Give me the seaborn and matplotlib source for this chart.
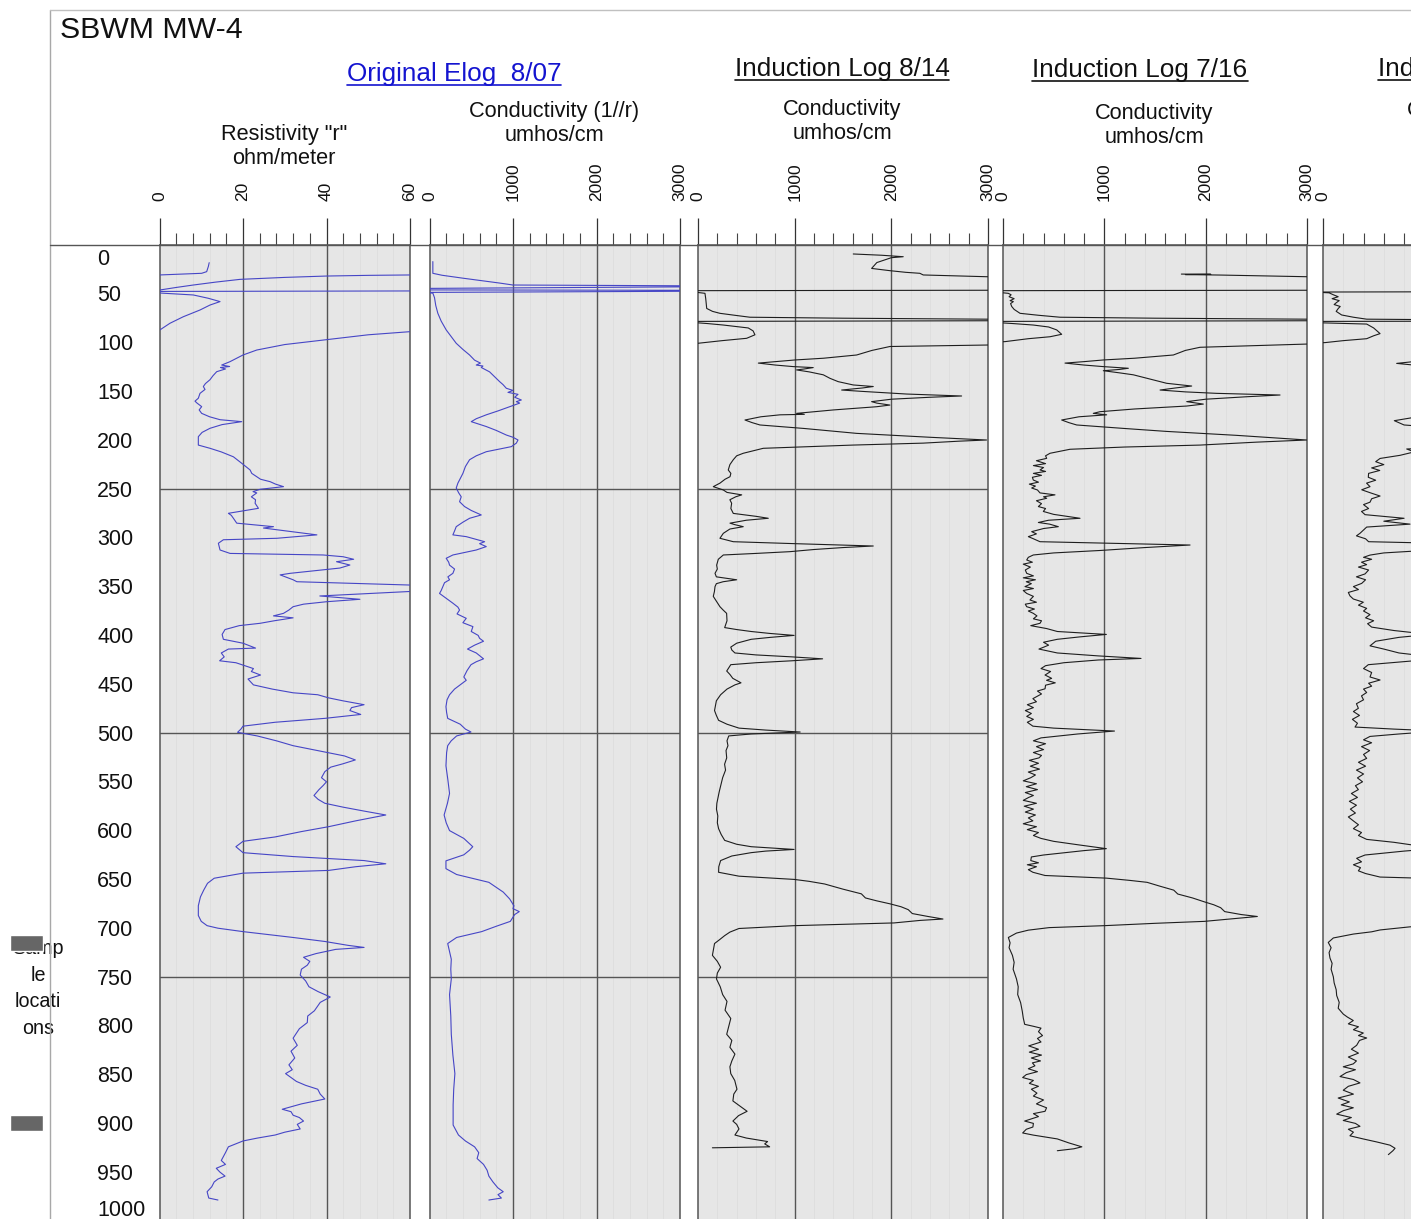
import matplotlib
matplotlib.use("Agg")
import matplotlib.pyplot as plt
import seaborn as sns
import pandas as pd
from matplotlib.lines import Line2D
from matplotlib import transforms

sns.set_style("white")
plt.rcParams['font.family'] = ['Liberation Sans', 'DejaVu Sans']

# ---------------- DATA (depth ft, value) ----------------
depth_ticks = list(range(0, 1001, 50))
sample_depths = [715, 900]

# Resistivity (ohm/meter), original elog 8/07
res_a = [(18.1, 11.9), (22.0, 11.7), (27.3, 11.3), (29.0, 10.1), (30.7, 0.0), (31.0, -3.0)]
res_b = [(45.5, -3.0), (46.1, 0.1), (43.5, 4.0), (41.0, 8.1), (38.0, 13.5), (35.2, 19.3), (33.2, 30.0),
         (31.8, 40.0), (31.1, 50.0), (30.7, 60.0), (30.6, 70.0), (47.0, 70.0), (47.6, -3.0), (48.6, -3.0),
         (49.2, 0.1), (51.2, 8.1), (54.6, 11.7), (58.0, 14.5), (61.5, 12.1), (66.6, 9.7), (73.5, 5.7),
         (80.2, 2.5), (87.0, 0.1), (88.0, -3.0)]
res_c = [(88.5, 70.0), (88.8, 60.0), (92.0, 50.0), (97.0, 40.0), (102.0, 30.0), (107.6, 23.3), (112.7, 20.0),
         (119.5, 16.9), (123.0, 14.9), (124.5, 16.8), (125.5, 14.6), (127.0, 15.8), (129.8, 13.7), (134.0, 12.8),
         (138.0, 12.1), (142.0, 11.0), (145.0, 10.5), (148.0, 10.9), (152.0, 9.7), (157.0, 9.3), (160.0, 8.5),
         (162.0, 9.0), (165.6, 10.1), (169.0, 9.5), (172.5, 10.1), (176.0, 12.0), (179.0, 14.5), (181.0, 19.7),
         (184.0, 15.0), (187.8, 12.1), (192.0, 10.2), (196.4, 9.3), (205.0, 9.3), (208.3, 12.1), (212.0, 14.8),
         (217.0, 17.7), (224.0, 19.8), (230.5, 21.7), (234.0, 22.1), (237.4, 23.3), (240.0, 24.2), (242.5, 26.5),
         (245.0, 27.8), (247.6, 29.7), (250.3, 24.1), (252.7, 22.4), (254.0, 23.3), (258.0, 22.0), (261.0, 23.0),
         (264.6, 22.9), (269.8, 23.7), (274.9, 16.5), (277.0, 17.2), (280.0, 17.7), (285.0, 18.5), (288.6, 27.3),
         (290.0, 24.9), (297.0, 37.7), (300.5, 28.1), (302.0, 15.3), (305.6, 14.1), (312.5, 14.5), (316.0, 16.9),
         (317.6, 39.2), (319.4, 44.0), (322.0, 46.5), (324.5, 42.4), (327.9, 45.6), (331.0, 43.2), (336.4, 31.3),
         (338.0, 28.9), (343.0, 32.0), (345.0, 32.9), (348.4, 60.0), (349.0, 70.0), (354.5, 70.0), (355.0, 60.0),
         (359.6, 38.4), (363.0, 48.0), (365.5, 40.0), (368.0, 34.5), (370.6, 32.0), (374.0, 31.0), (377.4, 29.7),
         (380.0, 27.3), (382.0, 32.0), (385.0, 27.5), (387.6, 24.1), (390.0, 19.1), (394.0, 15.7), (399.0, 15.0),
         (404.0, 15.3), (408.0, 20.0), (413.0, 23.0), (414.0, 16.5), (418.0, 14.8), (422.0, 15.5), (426.0, 14.4),
         (428.0, 18.3), (434.0, 22.5), (437.0, 22.0), (440.6, 24.2), (444.7, 21.2), (450.7, 22.5), (455.0, 27.0),
         (458.8, 32.0), (460.8, 37.9), (464.0, 40.5), (467.0, 43.9), (471.0, 49.0), (474.0, 46.0), (477.0, 45.6),
         (481.0, 48.2), (485.0, 39.6), (489.0, 27.7), (493.0, 20.0), (496.0, 19.5), (499.3, 18.7), (503.0, 23.4),
         (508.0, 28.0), (513.0, 32.0), (519.5, 39.6), (523.5, 44.3), (527.6, 46.9), (531.6, 43.9), (535.0, 41.0),
         (539.6, 39.6), (545.8, 38.8), (550.0, 40.0), (553.8, 39.2), (558.0, 38.2), (564.0, 37.0), (568.0, 38.0),
         (572.0, 39.6), (576.0, 44.0), (580.0, 49.0), (584.0, 54.2), (590.0, 47.0), (596.0, 40.5), (601.0, 34.0),
         (606.5, 27.7), (611.0, 20.0), (616.5, 18.3), (622.6, 20.0), (626.6, 32.0), (630.7, 49.0), (634.0, 54.2),
         (637.0, 47.0), (640.8, 40.5), (643.6, 20.0), (648.8, 13.1), (654.0, 11.5), (660.9, 10.6), (668.0, 9.8),
         (677.0, 9.3), (687.0, 9.3), (693.0, 10.0), (697.4, 11.4), (700.0, 14.0), (703.5, 20.0), (709.5, 32.0),
         (713.6, 39.6), (717.6, 45.2), (719.7, 49.0), (721.7, 42.2), (726.0, 37.5), (729.8, 34.5), (734.0, 36.0),
         (737.9, 35.4), (742.0, 34.0), (748.0, 33.7), (754.0, 35.0), (760.0, 35.8), (765.0, 38.0), (768.0, 39.6),
         (770.5, 40.9), (776.0, 38.5), (784.6, 37.1), (790.0, 35.5), (796.7, 35.4), (803.0, 33.5), (812.7, 32.0),
         (820.0, 33.0), (826.0, 31.5), (833.0, 32.4), (840.0, 31.0), (845.0, 31.8), (849.0, 30.2), (857.0, 32.8),
         (861.0, 35.0), (865.0, 37.9), (870.0, 38.5), (875.0, 39.6), (880.0, 34.0), (885.5, 29.4), (888.0, 31.5),
         (891.6, 32.0), (894.0, 33.5), (897.6, 34.5), (901.0, 33.0), (905.7, 33.7), (909.0, 30.0), (911.9, 27.7),
         (915.0, 23.5), (918.0, 20.0), (924.0, 16.5), (930.0, 15.8), (938.0, 14.8), (942.0, 15.8), (946.0, 13.6),
         (950.0, 14.5), (954.0, 15.7), (957.0, 14.0), (960.0, 13.1), (965.0, 12.5), (970.0, 11.4), (976.5, 11.8),
         (978.5, 14.0)]

# Conductivity (1//r) umhos/cm, original elog 8/07
cond_a = [(17, 40), (29, 40), (31, 150), (34, 400), (39, 840), (41, 1000), (42.0, 3600), (42.6, 3600),
          (44.5, -100), (46.0, -100), (46.5, 3600), (47.2, 3600), (48.6, -100), (49.3, 40), (54, 60), (62, 75),
          (70, 100), (78, 140), (87, 200), (95, 270), (100.7, 320), (107, 400), (112.7, 480), (118, 540),
          (121, 610), (123, 560), (124, 640), (125.5, 620), (130, 720), (135, 780), (140, 840), (143, 880),
          (146.8, 920), (149, 1000), (151, 940), (153, 1060), (156, 1020), (158.8, 1100), (160.5, 1040),
          (162, 1080), (165.7, 960), (170, 820), (174, 680), (178, 560), (181, 500), (186, 680), (190, 800),
          (194.7, 920), (197, 1000), (199.8, 1060), (203, 1040), (206.6, 980), (211.8, 680), (216, 560),
          (220, 480), (227, 430), (234, 400), (244, 340), (249, 320), (254, 350), (258, 380), (263, 360),
          (268, 420), (272, 500), (276.6, 620), (280, 480), (284, 400), (288.6, 320), (293, 300), (297, 280),
          (298.8, 440), (304, 660), (306, 600), (309, 680), (312.5, 560), (317.6, 280), (321, 200), (325, 230),
          (328, 240), (332, 300), (336.4, 280), (340, 220), (343, 240), (346, 180), (350, 160), (354, 140),
          (357, 120), (362, 200), (367, 280), (371, 340), (374, 360), (378, 330), (382.5, 440), (387, 400),
          (391, 520), (396, 500), (400, 583), (403, 600), (406, 647), (410, 540), (414, 455), (418, 560),
          (424, 647), (427, 560), (430, 497), (436, 450), (442.6, 411), (446, 440), (450.7, 368), (455, 300),
          (460.8, 240), (466, 210), (473, 197), (479, 205), (485, 218), (491, 368), (496, 430), (499, 497),
          (503, 325), (508, 260), (513, 218), (520, 205), (533.6, 197), (548, 220), (561.9, 240), (572, 215),
          (584, 175), (592, 200), (600, 240), (608, 411), (616.5, 518), (620, 480), (624.8, 411), (631, 197),
          (639, 197), (645, 325), (653, 711), (663, 883), (670, 960), (677, 1011), (680, 1000), (683, 1075),
          (686, 1020), (693, 968), (698, 800), (703.5, 625), (709.5, 325), (715.7, 218), (724, 240),
          (731.8, 261), (742, 255), (752, 261), (768, 240), (790, 255), (808.7, 261), (830, 280), (849, 304),
          (865, 290), (881, 283), (901.7, 283), (911.9, 347), (918, 430), (924, 540), (930, 590), (936, 570),
          (942, 647), (948, 690), (954, 711), (960, 760), (966, 818), (970, 883), (973, 820), (976.5, 861),
          (978.5, 711)]

# Induction log 8/14, conductivity umhos/cm
ind14_a = [(9.2, 1606), (10.5, 1900), (12, 2123), (13, 2000), (18, 1850), (24, 1796), (26.3, 1985), (28, 2150),
           (29, 2295), (30.7, 2330), (32.5, 2985), (33, 3500), (46.3, 3500), (46.8, -100), (47.5, -100),
           (49.5, 72), (55, 80), (60, 85), (65, 90), (68, 150), (70, 227), (72, 380), (74, 537), (75, 1500),
           (76, 2985), (76.5, 3500), (77.5, 3500), (78.3, -100), (79, -100), (80.5, 100), (82, 262), (85, 520),
           (88, 570), (92, 589), (95.6, 503), (98, 250), (100.7, 0), (101, -100)]
ind14_b = [(101.5, 3500), (102.5, 2985), (104, 1985), (108, 1800), (112.7, 1641), (116, 1300), (117.8, 1003),
           (119.5, 800), (121, 624), (123, 800), (124.6, 986), (125.6, 1192), (127, 1100), (128, 1020),
           (130, 1150), (133, 1296), (136.6, 1365), (140, 1450), (143.4, 1606), (145, 1813), (146.5, 1700),
           (148.6, 1486), (150, 1700), (152.7, 2158), (154.7, 2727), (156, 2400), (158, 2000), (160.5, 1796),
           (162, 1850), (164, 1985), (165.7, 1848), (169, 1400), (172.5, 1020), (173.5, 1100), (174, 848),
           (176, 650), (179.3, 486), (182, 560), (184.4, 641), (188, 1100), (193, 1641), (197, 2400),
           (199.8, 2985), (201, 2700), (203, 2330), (205, 1600), (208.3, 675), (213.4, 468), (216, 400),
           (220, 365), (225, 330), (230.5, 313), (234, 340), (237.4, 331), (240, 280), (244, 227), (247.6, 158),
           (251, 262), (253.5, 300), (256, 452), (258, 390), (261, 330), (264.6, 348), (270, 340), (275, 365),
           (278, 600), (280, 727), (282, 500), (285, 331), (286.5, 380), (288.6, 468), (291, 330), (295.4, 262),
           (300.5, 227), (304, 365), (306, 1000), (308.4, 1813), (310, 1500), (312, 1200), (314.2, 951),
           (316, 600), (317.6, 262), (322, 210), (328, 193), (332, 200), (336.4, 176), (340, 190), (343, 400),
           (345, 260), (347, 190), (350, 176), (355, 170), (360, 158), (365, 190), (370.6, 227), (374, 260),
           (377.4, 296), (380, 297), (385, 300), (392, 276), (394, 400), (396, 550), (398, 744), (400, 994),
           (402, 750), (404, 550), (408, 400), (412, 339), (415, 350), (418, 382), (420, 600), (422, 972),
           (424, 1289), (426, 972), (428, 600), (430, 339), (436.5, 297), (440, 330), (444, 360), (448.6, 445),
           (450.7, 382), (455, 300), (460.8, 234), (467, 190), (472, 180), (477, 171), (482, 190), (487, 213),
           (491, 300), (495, 424), (497, 700), (499, 1057), (501, 550), (503, 318), (508, 300), (513, 310),
           (518, 290), (525.5, 297), (532, 275), (538, 285), (545.8, 255), (552, 240), (560, 220), (567, 205),
           (572, 195), (578, 191), (585, 205), (592, 200), (598, 213), (604, 240), (610, 276), (614, 400),
           (616.5, 550), (619.3, 994), (621, 700), (622.6, 550), (626, 350), (630.7, 234), (637, 215),
           (642.7, 213), (646.7, 424), (650, 994), (652, 1150), (654.7, 1310), (660, 1500), (664.8, 1690),
           (669, 1732), (672, 1850), (675, 1985), (678, 2100), (681, 2175), (685, 2217), (688, 2380),
           (690.6, 2534), (692, 2300), (694.6, 2028), (696, 1500), (697.4, 994), (700.3, 424), (704, 330),
           (707.6, 276), (712, 220), (715.7, 171), (722, 160), (727.8, 149), (734, 200), (740, 234), (746, 200),
           (752, 191), (760, 230), (768, 255), (775, 300), (784, 280), (792.5, 339), (800, 320), (808.7, 297),
           (815, 350), (822, 330), (829, 382), (836, 350), (842, 330), (849, 339), (856, 380), (865, 403),
           (870, 370), (877, 361), (882, 430), (887.6, 508), (892, 420), (897.6, 361), (901, 400), (905.7, 424),
           (911.9, 382), (915, 500), (918.6, 720), (921, 690), (924, 741), (925, 149)]

# Induction log 7/16, conductivity umhos/cm
ind16_a = [(29.8, 1760), (30.0, 2050), (30.3, 1800), (30.8, 2150), (31.5, 2500), (32.5, 2998), (33, 3500),
           (46.3, 3500), (46.8, -100), (48, -100), (49.5, 52), (51, 80), (53, 60), (55, 110), (57, 70), (58, 102),
           (60, 75), (63, 86), (66, 110), (70, 168), (72, 350), (74, 563), (75, 1500), (76, 2998), (76.5, 3500),
           (77.5, 3500), (78.3, -100), (79.2, -100), (80.5, 100), (82, 299), (84, 450), (87, 530), (91.5, 579),
           (94, 464), (96, 250), (99, 20), (99.5, -100)]
ind16_b = [(100.5, 3500), (101.5, 2998), (104.8, 1944), (108, 1800), (112.7, 1681), (116, 1300), (117.8, 990),
           (119.5, 800), (121, 612), (123, 800), (124.6, 990), (126.3, 1237), (127.5, 1150), (128.8, 990),
           (131, 1150), (133, 1286), (136, 1400), (138.3, 1483), (141.7, 1615), (144.5, 1862), (146.5, 1700),
           (148.6, 1550), (150.5, 1800), (152, 2109), (153.7, 2734), (155.5, 2400), (158, 2000), (160.5, 1813),
           (163, 1977), (165, 1813), (168, 1300), (170.8, 957), (172.5, 891), (174, 1023), (176, 750),
           (179.3, 579), (182, 650), (184.4, 727), (188, 1200), (191, 1615), (195, 2300), (199.8, 2998),
           (202, 2500), (205, 1944), (207, 1200), (209.3, 661), (213.4, 464), (216, 420), (218.6, 431),
           (221, 330), (224, 420), (226, 300), (228, 400), (230.5, 365), (232, 420), (234, 300), (236, 380),
           (238, 290), (240.8, 299), (243, 350), (245, 260), (247, 320), (249, 283), (251, 340), (254, 365),
           (256, 513), (258, 400), (259.5, 431), (262, 330), (265, 380), (268, 349), (270, 420), (273, 398),
           (276, 500), (280, 760), (282, 450), (284.3, 349), (286, 460), (288.6, 546), (290.5, 400),
           (293.7, 283), (296, 330), (298.8, 250), (301, 300), (304, 365), (305.5, 1000), (307.4, 1846),
           (310, 1400), (313, 957), (315.5, 500), (317.6, 299), (320, 250), (322.7, 234), (325, 290), (327, 200),
           (330, 270), (333, 220), (336.4, 234), (339, 300), (341, 200), (343, 320), (345, 230), (347, 280),
           (350, 217), (352, 300), (354, 200), (357, 234), (360, 300), (363.7, 266), (366, 330), (368, 220),
           (370.6, 234), (373, 310), (375, 250), (377.4, 299), (380, 335), (383, 300), (385, 380), (387.6, 365),
           (390, 274), (393, 431), (396, 536), (399, 1020), (401.5, 760), (404, 536), (407, 400), (410, 450),
           (414, 355), (418, 536), (421, 940), (423.6, 1362), (425.2, 940), (428, 600), (431, 420), (434, 375),
           (437, 470), (440.6, 415), (444, 480), (446, 430), (448.6, 516), (451, 420), (454.7, 415), (457, 340),
           (460, 380), (464.8, 295), (468, 330), (471, 240), (474, 300), (477, 220), (480, 280), (483, 234),
           (486, 300), (489, 240), (493, 295), (495, 500), (496.4, 778), (498, 1100), (501, 738), (505, 375),
           (508, 300), (511, 420), (514, 330), (517, 400), (520, 300), (523, 380), (525.5, 355), (528, 260),
           (531, 350), (534, 270), (537, 360), (540, 250), (543, 320), (545.8, 274), (549, 200), (552, 330),
           (555, 230), (558, 340), (561, 220), (564, 300), (566, 254), (569, 200), (572, 330), (575, 210),
           (578, 300), (581, 220), (584, 320), (587, 250), (590, 295), (593, 200), (596, 330), (599, 240),
           (602, 350), (605, 300), (608, 375), (611, 500), (614.5, 738), (618.5, 1020), (620.5, 800),
           (622.6, 617), (625, 400), (627, 280), (630.7, 274), (633, 350), (635, 240), (637, 330), (640, 250),
           (642.7, 295), (646, 415), (648.7, 1020), (651, 1250), (653, 1422), (657, 1550), (661, 1685),
           (665, 1725), (669, 1870), (673, 1987), (676, 2080), (679, 2148), (683, 2188), (686, 2350),
           (688, 2510), (690, 2300), (693, 1987), (695, 1500), (697.4, 1000), (699.4, 456), (702, 250),
           (705, 133), (709.5, 53), (715, 70), (720, 60), (727.8, 93), (735, 110), (742, 100), (752, 133),
           (760, 150), (768, 145), (776.3, 174), (785, 190), (792, 200), (798.5, 214), (800.5, 300),
           (802.4, 375), (806, 350), (810, 390), (813, 340), (816.6, 375), (820.6, 254), (824, 350), (827, 260),
           (830, 380), (833, 280), (836, 370), (838, 290), (841, 315), (844, 250), (847, 340), (850, 230),
           (853, 194), (856, 300), (859, 260), (862, 350), (865, 280), (869, 335), (872, 300), (876, 400),
           (880, 330), (884, 430), (887.6, 415), (890, 300), (893, 350), (897.6, 214), (900, 300), (903.7, 295),
           (906, 230), (909.8, 194), (912, 300), (915.9, 536), (920, 650), (924, 778), (926, 700), (928, 536)]

# Later induction log (panel cut at right edge), conductivity umhos/cm
ind5_a = [(47.5, 3500), (48.2, -100), (49, 60), (51, 102), (53, 150), (55, 90), (57, 160), (58.8, 135),
          (61, 110), (63, 170), (65, 151), (68, 130), (71.7, 184), (74, 300), (76, 431), (76.8, 1500),
          (77.3, 3500), (77.7, 3500), (78.3, -100), (79.5, -100), (81, 431), (85, 500), (90.8, 563), (93, 500),
          (96, 431), (98, 200), (100, 20), (100.5, -100)]
ind5_b = [(100.5, 3500), (104.8, 2000), (112.7, 1700), (117.8, 1050), (121.3, 727), (124.6, 1050),
          (126.3, 1300), (128.8, 1050), (133, 1350), (141.7, 1650), (144.5, 1900), (148.6, 1600), (153.7, 2750),
          (160.5, 1850), (165, 1850), (170.8, 1000), (174, 1050), (180, 704), (184.4, 800), (191, 1650),
          (199.8, 3000), (205, 1950), (209, 826), (212, 900), (215.5, 760), (218.7, 563), (222, 520), (225, 600),
          (228.4, 480), (231, 560), (234, 450), (238, 447), (241, 520), (244, 430), (247.6, 464), (250.8, 382),
          (254, 470), (257.2, 563), (260, 480), (263.5, 464), (266, 400), (270, 450), (273, 380), (276.3, 415),
          (280, 800), (283, 600), (286, 859), (289, 431), (292, 400), (295.4, 365), (298, 330), (301, 420),
          (304, 450), (305.5, 1100), (307.4, 1900), (310, 1400), (313, 1000), (315.5, 600), (317.7, 464),
          (320, 400), (322, 480), (325, 380), (327.5, 431), (330, 350), (333, 450), (337, 415), (340, 330),
          (343, 420), (346.7, 382), (350, 300), (353, 350), (356, 250), (359.5, 266), (362.7, 299), (366, 398),
          (369, 350), (372.3, 431), (375, 400), (378.7, 464), (382, 420), (385, 500), (388, 440), (391.5, 480),
          (395, 700), (399, 1050), (402, 750), (406, 520), (410.7, 464), (414, 600), (418, 750), (421, 1000),
          (423.6, 1400), (426, 900), (430, 447), (434, 400), (438, 480), (442.6, 464), (445.7, 563), (449, 450),
          (452, 480), (455, 400), (458.5, 431), (462, 380), (466, 400), (470, 330), (474.7, 349), (478, 300),
          (482, 360), (486, 290), (490, 340), (493.9, 316), (496, 700), (498, 1150), (501, 750), (503.5, 464),
          (507, 400), (510, 480), (514, 380), (518, 460), (522, 400), (526, 431), (530, 350), (534, 420),
          (538, 330), (542, 400), (546, 340), (550, 390), (554, 320), (558, 349), (562, 280), (566, 340),
          (570, 260), (574, 330), (578, 270), (582, 320), (586, 250), (590, 299), (594, 350), (598, 300),
          (602, 380), (605, 350), (609, 431), (612, 700), (615, 900), (618.5, 1100), (621, 800), (625, 415),
          (628.4, 332), (632, 380), (635, 300), (638, 370), (641.2, 349), (644, 420), (647.6, 563), (649, 1050),
          (653, 1450), (665, 1750), (673, 2000), (683, 2200), (688, 2520), (693, 2000), (697.4, 1200),
          (698.6, 859), (701.8, 563), (703.7, 480), (706, 300), (710, 102), (714.6, 52), (720, 80), (725, 60),
          (730.6, 69), (736, 90), (742, 80), (749.8, 102), (756, 110), (763, 130), (769, 135), (776, 160),
          (782, 150), (788, 200), (791, 240), (794.6, 299), (798, 250), (801, 350), (804, 300), (807.4, 398),
          (810, 350), (812.5, 431), (815, 360), (820, 332), (824, 280), (828, 350), (832, 250), (836, 330),
          (839, 299), (842, 200), (845, 320), (848, 230), (852, 168), (855, 300), (858.5, 365), (862, 250),
          (866, 200), (870, 300), (874, 150), (878, 260), (881, 180), (884, 299), (887, 200), (890.5, 135),
          (894, 280), (897, 200), (900, 320), (903, 365), (906, 250), (909, 300), (912.7, 266), (916, 400),
          (919, 530), (922.3, 661), (925.5, 711), (928, 690), (932, 645)]

# ---------------- LAYOUT ----------------
W, H = 1411, 1219
TOP, BOT = 245, 1221          # pixel rows of depth 0 and depth 1000
BLUE = '#4646c6'
BLACK = '#1e1e1e'
GRID = '#555555'

fig = plt.figure(figsize=(W / 100, H / 100), dpi=100)
fig.patch.set_facecolor('white')


def add_ax(x0, x1, y0, y1):
    return fig.add_axes([x0 / W, 1 - y1 / H, (x1 - x0) / W, (y1 - y0) / H])


def fx(x):
    return x / W


def fy(y):
    return 1 - y / H


def frame(segments):
    rows = []
    for i, seg in enumerate(segments):
        for d, v in seg:
            rows.append((d, v, i))
    return pd.DataFrame(rows, columns=['depth', 'value', 'seg'])


panels = [
    dict(x0=159.5, x1=410, xmax=60, major=20, minor=4, hl=True, segs=[res_a, res_b, res_c], color=BLUE),
    dict(x0=429.5, x1=680, xmax=3000, major=1000, minor=200, hl=True, segs=[cond_a], color=BLUE),
    dict(x0=698, x1=988, xmax=3000, major=1000, minor=200, hl=True, segs=[ind14_a, ind14_b], color=BLACK),
    dict(x0=1003, x1=1307, xmax=3000, major=1000, minor=200, hl=False, segs=[ind16_a, ind16_b], color=BLACK),
    dict(x0=1323, x1=1627, xmax=3000, major=1000, minor=200, hl=False, segs=[ind5_a, ind5_b], color=BLACK),
]

for p in panels:
    ax = add_ax(p['x0'], p['x1'], TOP, BOT)
    ax.set_facecolor('#e6e6e6')
    df = frame(p['segs'])
    sns.lineplot(data=df, x='value', y='depth', units='seg', estimator=None, sort=False,
                 orient='y', color=p['color'], lw=0.8, ax=ax, legend=False, zorder=3)
    ax.set_xlabel('')
    ax.set_ylabel('')
    ax.set_xlim(0, p['xmax'])
    ax.set_ylim(1000, 0)
    majors = list(range(0, p['xmax'] + 1, p['major']))
    minors = [m for m in range(0, p['xmax'] + 1, p['minor']) if m % p['major'] != 0]
    ax.xaxis.set_ticks_position('top')
    ax.set_xticks(majors)
    # only label ticks that fall inside the picture
    labels = []
    for m in majors:
        xpix = p['x0'] + (p['x1'] - p['x0']) * m / p['xmax']
        labels.append(str(m) if xpix < W - 4 else '')
    ax.set_xticklabels(labels)
    ax.set_xticks(minors, minor=True)
    ax.set_yticks([])
    ax.tick_params(axis='x', which='major', direction='out', length=19.4, width=0.9, color='#333333',
                   labelsize=12.5, labelrotation=90, pad=12, labelcolor='#111111')
    ax.tick_params(axis='x', which='minor', direction='out', length=8.6, width=0.8, color='#444444')
    ax.grid(False)
    for m in minors:
        ax.axvline(m, color='#dddddd', lw=0.6, zorder=0.5)
    for m in majors[1:-1]:
        ax.axvline(m, color=GRID, lw=1.0, zorder=1)
    if p['hl']:
        for d in (250, 500, 750):
            ax.axhline(d, color=GRID, lw=1.0, zorder=1)
    for s in ('left', 'right', 'top'):
        ax.spines[s].set_visible(True)
        ax.spines[s].set_color(GRID)
        ax.spines[s].set_linewidth(1.1)
    ax.spines['bottom'].set_visible(False)

# ---------------- depth scale ----------------
axd = add_ax(50, 159.5, TOP, BOT)
axd.set_xlim(50, 159.5)
axd.set_ylim(1000, 0)
axd.patch.set_alpha(0)
for s in axd.spines.values():
    s.set_visible(False)
axd.set_xticks([])
axd.set_yticks(depth_ticks)
axd.set_yticks(list(range(0, 1001, 10)), minor=True)
axd.tick_params(axis='y', which='major', direction='in', length=23, width=0.9, color='#444444',
                labelleft=False)
axd.tick_params(axis='y', which='minor', direction='in', length=12.2, width=0.9, color='#444444')
for d in depth_ticks:
    if d == 0:
        va, off = 'top', -4
    elif d == 1000:
        va, off = 'bottom', 0
    else:
        va, off = 'center', -2
    tr = axd.transData + transforms.ScaledTranslation(0, off / 100, fig.dpi_scale_trans)
    axd.text(97, d, str(d), ha='left', va=va, fontsize=15.5, color='#111111', transform=tr)

# ---------------- sample locations ----------------
axs = add_ax(0, 50, TOP, BOT)
axs.set_xlim(0, 50)
axs.set_ylim(1000, 0)
axs.axis('off')
axs.barh(sample_depths, width=33, left=10, height=16.4, color='#666666', zorder=5)
for txt, d in zip(['Samp', 'le', 'locati', 'ons'], [720.3, 748.0, 774.6, 802.3]):
    axs.text(38, d, txt, ha='center', va='center', fontsize=14.2, color='#111111', zorder=1)

# ---------------- frame lines ----------------
fig.add_artist(Line2D([fx(50), fx(50)], [fy(10), fy(H)], color='#a8a8a8', lw=1.0))
fig.add_artist(Line2D([fx(50), 1.0], [fy(10), fy(10)], color='#c0c0c0', lw=1.0))
fig.add_artist(Line2D([fx(50), 1.0], [fy(245), fy(245)], color=GRID, lw=1.0))

# ---------------- titles ----------------
fig.text(fx(60), fy(38), 'SBWM MW-4', fontsize=21.8, ha='left', va='baseline', color='#111111')

titles = [
    (454, 81, 'Original Elog  8/07', '#1414d0', 'center'),
    (842, 76, 'Induction Log 8/14', '#111111', 'center'),
    (1140, 77, 'Induction Log 7/16', '#111111', 'center'),
    (1378, 76, 'Induction Log', '#111111', 'left'),
]
title_objs = []
for x, yb, s, c, ha in titles:
    t = fig.text(fx(x), fy(yb), s, fontsize=18.8, ha=ha, va='baseline', color=c)
    title_objs.append((t, yb, c))

subs = [
    (284, 140, 'Resistivity "r"'), (284, 164, 'ohm/meter'),
    (554, 117, 'Conductivity (1//r)'), (554, 141, 'umhos/cm'),
    (842, 115, 'Conductivity'), (842, 139, 'umhos/cm'),
    (1154, 119, 'Conductivity'), (1154, 143, 'umhos/cm'),
    (1466, 116, 'Conductivity'), (1466, 140, 'umhos/cm'),
]
for x, yb, s in subs:
    fig.text(fx(x), fy(yb), s, fontsize=15.7, ha='center', va='baseline', color='#111111')

fig.canvas.draw()
renderer = fig.canvas.get_renderer()
for t, yb, c in title_objs:
    bb = t.get_window_extent(renderer)
    fig.add_artist(Line2D([bb.x0 / W, bb.x1 / W], [fy(yb + 4), fy(yb + 4)], color=c, lw=1.2))

fig.savefig('out.png', dpi=100, facecolor='white')
